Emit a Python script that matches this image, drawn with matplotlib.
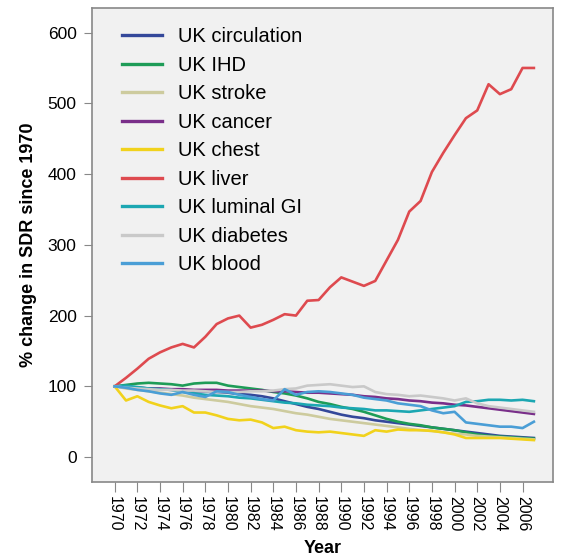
import numpy as np
import matplotlib
matplotlib.use("Agg")
import matplotlib.pyplot as plt

plt.rcParams['font.family'] = ['Liberation Sans', 'DejaVu Sans']

years = np.arange(1970, 2008)

circulation = [100, 99, 98, 97, 96, 95, 94, 93, 93, 92, 91, 89, 88, 86, 83, 79, 75, 71, 68,
               64, 60, 57, 55, 52, 50, 48, 46, 44, 42, 40, 38, 36, 34, 32, 30, 29, 28, 27]
ihd = [100, 102, 104, 105, 104, 103, 101, 104, 105, 105, 101, 99, 97, 95, 92, 90, 87, 83, 78,
       75, 71, 68, 64, 59, 54, 50, 47, 45, 42, 40, 38, 35, 32, 30, 29, 28, 27, 26]
stroke = [100, 97, 95, 93, 91, 89, 87, 84, 82, 80, 78, 75, 72, 70, 68, 65, 62, 60, 57,
          54, 52, 50, 48, 46, 44, 42, 40, 38, 37, 35, 33, 32, 30, 29, 28, 27, 26, 25]
cancer = [100, 99, 98, 97, 97, 96, 96, 95, 95, 95, 94, 94, 94, 94, 93, 93, 92, 91, 91,
          90, 89, 88, 86, 85, 83, 82, 80, 79, 77, 76, 74, 73, 71, 69, 67, 65, 63, 61]
chest = [100, 80, 86, 78, 73, 69, 72, 63, 63, 59, 54, 52, 53, 49, 41, 43, 38, 36, 35,
         36, 34, 32, 30, 38, 36, 39, 38, 38, 37, 35, 32, 27, 27, 27, 27, 26, 25, 24]
liver = [100, 112, 125, 139, 148, 155, 160, 155, 170, 188, 196, 200, 183, 187, 194, 202, 200, 221, 222,
         240, 254, 248, 242, 249, 278, 307, 347, 362, 403, 430, 455, 479, 490, 527, 513, 520, 550, 550]
luminal_gi = [100, 101, 99, 97, 96, 95, 92, 90, 88, 87, 86, 84, 83, 81, 79, 77, 76, 74, 73,
              72, 70, 69, 68, 66, 66, 65, 64, 66, 68, 70, 72, 78, 79, 81, 81, 80, 81, 79]
diabetes = [100, 98, 97, 96, 95, 95, 94, 94, 93, 92, 92, 92, 93, 93, 94, 96, 97, 101, 102,
            103, 101, 99, 100, 92, 89, 88, 86, 87, 85, 83, 80, 83, 76, 72, 70, 68, 66, 64]
blood = [100, 98, 95, 93, 90, 88, 92, 88, 85, 93, 92, 88, 85, 82, 80, 96, 88, 92, 93,
         92, 90, 88, 84, 82, 80, 76, 74, 72, 66, 62, 64, 49, 47, 45, 43, 43, 41, 50]

series = [
    ("UK circulation", circulation, "#34489a"),
    ("UK IHD", ihd, "#1e9c57"),
    ("UK stroke", stroke, "#cdcb9e"),
    ("UK cancer", cancer, "#7a2f8a"),
    ("UK chest", chest, "#f1d21c"),
    ("UK liver", liver, "#de4a4f"),
    ("UK luminal GI", luminal_gi, "#1ca7b2"),
    ("UK diabetes", diabetes, "#c9c9c9"),
    ("UK blood", blood, "#4a9ed6"),
]

fig = plt.figure(figsize=(5.61, 5.59), dpi=100)
ax = fig.add_axes([0.164, 0.138, 0.822, 0.848])
ax.set_facecolor("#f1f1f1")

for label, vals, col in series:
    ax.plot(years, vals, color=col, lw=1.9, label=label)

ax.set_xlim(1968, 2008.7)
ax.set_ylim(-35, 635)
ax.set_yticks([0, 100, 200, 300, 400, 500, 600])
ax.set_xticks(np.arange(1970, 2007, 2))
ax.tick_params(axis='x', labelrotation=-90, length=7, color="#888888", labelsize=11.5, pad=3)
ax.tick_params(axis='y', length=6, color="#888888", labelsize=12.5, pad=5)
for s in ax.spines.values():
    s.set_color("#888888")
    s.set_linewidth(1.2)

ax.set_xlabel("Year", fontsize=13, fontweight="bold", labelpad=6)
ax.set_ylabel("% change in SDR since 1970", fontsize=13, fontweight="bold", labelpad=8)

leg = ax.legend(loc="upper left", frameon=False, fontsize=14.5, handlelength=2.0,
                labelspacing=0.47, handletextpad=0.8, bbox_to_anchor=(0.025, 0.997))
for line in leg.get_lines():
    line.set_linewidth(2.4)

fig.savefig("out.png", dpi=100)
